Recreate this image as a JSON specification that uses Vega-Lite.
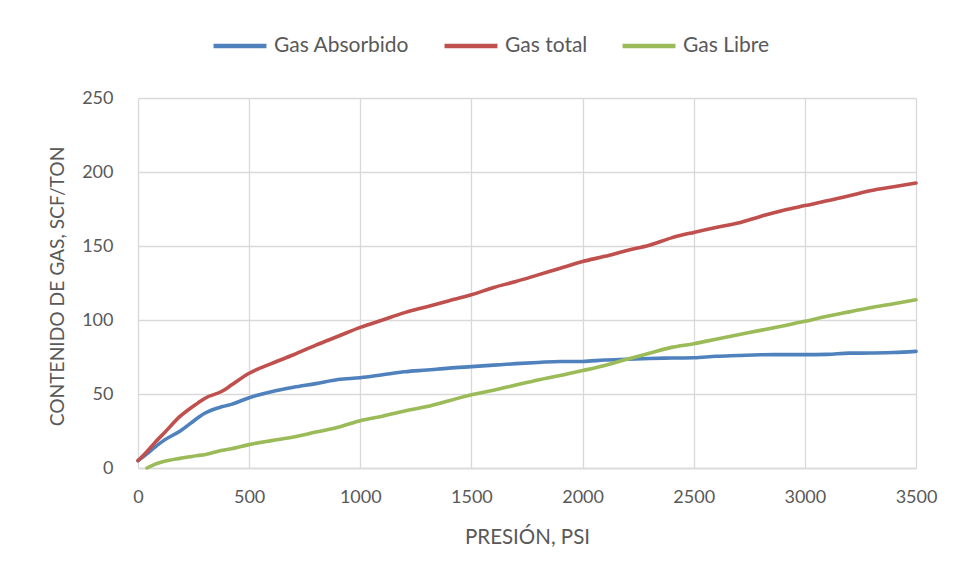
{
  "$schema": "https://vega.github.io/schema/vega-lite/v6.json",
  "width": 778,
  "height": 370,
  "autosize": {"type": "none"},
  "padding": {"left": 138, "top": 98, "right": 45, "bottom": 110},
  "background": "white",
  "config": {
    "font": "Lato",
    "view": {"stroke": null},
    "axis": {"labelColor": "#595959", "titleColor": "#595959", "labelFont": "Lato", "titleFont": "Lato", "labelFontSize": 18, "titleFontSize": 18, "titleFontWeight": "normal", "gridColor": "#d9d9d9", "gridWidth": 1.3, "tickSize": 0, "ticks": false, "labelFlush": false}
  },
  "data": {
    "values": [
      {"p": 0, "s": "Gas Absorbido", "v": 5},
      {"p": 40, "s": "Gas Absorbido", "v": 9.5},
      {"p": 75, "s": "Gas Absorbido", "v": 14},
      {"p": 120, "s": "Gas Absorbido", "v": 19},
      {"p": 190, "s": "Gas Absorbido", "v": 25},
      {"p": 270, "s": "Gas Absorbido", "v": 34},
      {"p": 300, "s": "Gas Absorbido", "v": 37},
      {"p": 380, "s": "Gas Absorbido", "v": 41.5},
      {"p": 420, "s": "Gas Absorbido", "v": 43},
      {"p": 500, "s": "Gas Absorbido", "v": 47.5},
      {"p": 600, "s": "Gas Absorbido", "v": 51.5},
      {"p": 700, "s": "Gas Absorbido", "v": 54.5},
      {"p": 800, "s": "Gas Absorbido", "v": 57},
      {"p": 900, "s": "Gas Absorbido", "v": 59.8},
      {"p": 1000, "s": "Gas Absorbido", "v": 61},
      {"p": 1100, "s": "Gas Absorbido", "v": 63},
      {"p": 1200, "s": "Gas Absorbido", "v": 65},
      {"p": 1300, "s": "Gas Absorbido", "v": 66.2},
      {"p": 1400, "s": "Gas Absorbido", "v": 67.5},
      {"p": 1500, "s": "Gas Absorbido", "v": 68.5},
      {"p": 1600, "s": "Gas Absorbido", "v": 69.5},
      {"p": 1700, "s": "Gas Absorbido", "v": 70.5},
      {"p": 1800, "s": "Gas Absorbido", "v": 71.3},
      {"p": 1900, "s": "Gas Absorbido", "v": 72},
      {"p": 2000, "s": "Gas Absorbido", "v": 72},
      {"p": 2100, "s": "Gas Absorbido", "v": 73},
      {"p": 2200, "s": "Gas Absorbido", "v": 73.5},
      {"p": 2300, "s": "Gas Absorbido", "v": 74},
      {"p": 2400, "s": "Gas Absorbido", "v": 74.3},
      {"p": 2500, "s": "Gas Absorbido", "v": 74.5},
      {"p": 2600, "s": "Gas Absorbido", "v": 75.5},
      {"p": 2700, "s": "Gas Absorbido", "v": 76},
      {"p": 2800, "s": "Gas Absorbido", "v": 76.5},
      {"p": 2900, "s": "Gas Absorbido", "v": 76.6},
      {"p": 3000, "s": "Gas Absorbido", "v": 76.6},
      {"p": 3100, "s": "Gas Absorbido", "v": 76.8},
      {"p": 3200, "s": "Gas Absorbido", "v": 77.6},
      {"p": 3300, "s": "Gas Absorbido", "v": 77.7},
      {"p": 3400, "s": "Gas Absorbido", "v": 78},
      {"p": 3500, "s": "Gas Absorbido", "v": 78.8},
      {"p": 0, "s": "Gas total", "v": 5},
      {"p": 40, "s": "Gas total", "v": 11},
      {"p": 75, "s": "Gas total", "v": 17},
      {"p": 120, "s": "Gas total", "v": 24},
      {"p": 190, "s": "Gas total", "v": 35},
      {"p": 270, "s": "Gas total", "v": 44},
      {"p": 300, "s": "Gas total", "v": 47},
      {"p": 380, "s": "Gas total", "v": 52},
      {"p": 420, "s": "Gas total", "v": 56},
      {"p": 500, "s": "Gas total", "v": 64},
      {"p": 600, "s": "Gas total", "v": 70.5},
      {"p": 700, "s": "Gas total", "v": 76.5},
      {"p": 800, "s": "Gas total", "v": 83},
      {"p": 900, "s": "Gas total", "v": 89},
      {"p": 1000, "s": "Gas total", "v": 95},
      {"p": 1100, "s": "Gas total", "v": 100},
      {"p": 1200, "s": "Gas total", "v": 105},
      {"p": 1300, "s": "Gas total", "v": 109},
      {"p": 1400, "s": "Gas total", "v": 113},
      {"p": 1500, "s": "Gas total", "v": 117},
      {"p": 1600, "s": "Gas total", "v": 122},
      {"p": 1700, "s": "Gas total", "v": 126},
      {"p": 1800, "s": "Gas total", "v": 130.5},
      {"p": 1900, "s": "Gas total", "v": 135},
      {"p": 2000, "s": "Gas total", "v": 139.5},
      {"p": 2100, "s": "Gas total", "v": 143},
      {"p": 2200, "s": "Gas total", "v": 147},
      {"p": 2300, "s": "Gas total", "v": 150.5},
      {"p": 2400, "s": "Gas total", "v": 155.5},
      {"p": 2500, "s": "Gas total", "v": 159.2},
      {"p": 2600, "s": "Gas total", "v": 162.5},
      {"p": 2700, "s": "Gas total", "v": 165.5},
      {"p": 2800, "s": "Gas total", "v": 170},
      {"p": 2900, "s": "Gas total", "v": 174},
      {"p": 3000, "s": "Gas total", "v": 177.3},
      {"p": 3100, "s": "Gas total", "v": 180.5},
      {"p": 3200, "s": "Gas total", "v": 184},
      {"p": 3300, "s": "Gas total", "v": 187.5},
      {"p": 3400, "s": "Gas total", "v": 190},
      {"p": 3500, "s": "Gas total", "v": 192.6},
      {"p": 40, "s": "Gas Libre", "v": 0},
      {"p": 75, "s": "Gas Libre", "v": 2.5},
      {"p": 120, "s": "Gas Libre", "v": 4.5},
      {"p": 190, "s": "Gas Libre", "v": 6.5},
      {"p": 270, "s": "Gas Libre", "v": 8.5},
      {"p": 300, "s": "Gas Libre", "v": 9},
      {"p": 380, "s": "Gas Libre", "v": 12},
      {"p": 420, "s": "Gas Libre", "v": 13},
      {"p": 500, "s": "Gas Libre", "v": 15.8},
      {"p": 600, "s": "Gas Libre", "v": 18.5},
      {"p": 700, "s": "Gas Libre", "v": 21},
      {"p": 800, "s": "Gas Libre", "v": 24.3},
      {"p": 900, "s": "Gas Libre", "v": 27.5},
      {"p": 1000, "s": "Gas Libre", "v": 32},
      {"p": 1100, "s": "Gas Libre", "v": 35},
      {"p": 1200, "s": "Gas Libre", "v": 38.5},
      {"p": 1300, "s": "Gas Libre", "v": 41.5},
      {"p": 1400, "s": "Gas Libre", "v": 45.5},
      {"p": 1500, "s": "Gas Libre", "v": 49.5},
      {"p": 1600, "s": "Gas Libre", "v": 52.5},
      {"p": 1700, "s": "Gas Libre", "v": 56},
      {"p": 1800, "s": "Gas Libre", "v": 59.5},
      {"p": 1900, "s": "Gas Libre", "v": 62.5},
      {"p": 2000, "s": "Gas Libre", "v": 65.8},
      {"p": 2100, "s": "Gas Libre", "v": 69.3},
      {"p": 2200, "s": "Gas Libre", "v": 73.5},
      {"p": 2300, "s": "Gas Libre", "v": 77.5},
      {"p": 2400, "s": "Gas Libre", "v": 81.5},
      {"p": 2500, "s": "Gas Libre", "v": 84},
      {"p": 2600, "s": "Gas Libre", "v": 87},
      {"p": 2700, "s": "Gas Libre", "v": 90.1},
      {"p": 2800, "s": "Gas Libre", "v": 93},
      {"p": 2900, "s": "Gas Libre", "v": 96},
      {"p": 3000, "s": "Gas Libre", "v": 99.1},
      {"p": 3100, "s": "Gas Libre", "v": 102.5},
      {"p": 3200, "s": "Gas Libre", "v": 105.5},
      {"p": 3300, "s": "Gas Libre", "v": 108.5},
      {"p": 3400, "s": "Gas Libre", "v": 111},
      {"p": 3500, "s": "Gas Libre", "v": 113.7}
    ]
  },
  "mark": {"type": "line", "interpolate": "monotone", "strokeWidth": 3.6, "strokeCap": "round"},
  "encoding": {
    "x": {
      "field": "p", "type": "quantitative",
      "scale": {"domain": [0, 3500], "nice": false},
      "axis": {"values": [0, 500, 1000, 1500, 2000, 2500, 3000, 3500], "format": "d", "title": "PRESIÓN, PSI", "titleFontSize": 20.5, "labelPadding": 20, "labelBaseline": "top", "domain": true, "domainColor": "#d9d9d9", "domainWidth": 1.3, "titleY": 69, "titleBaseline": "middle"}
    },
    "y": {
      "field": "v", "type": "quantitative",
      "scale": {"domain": [0, 250], "nice": false},
      "axis": {"values": [0, 50, 100, 150, 200, 250], "title": "CONTENIDO DE GAS, SCF/TON", "titleFontSize": 19.2, "labelPadding": 25, "domain": false, "titleX": -81, "titleY": 188, "titleAngle": -90, "titleBaseline": "middle", "titleAlign": "center"}
    },
    "color": {
      "field": "s", "type": "nominal", "sort": null,
      "scale": {"domain": ["Gas Absorbido", "Gas total", "Gas Libre"], "range": ["#4f81bd", "#c0504d", "#9bbb59"]},
      "legend": {"title": null, "orient": "none", "direction": "horizontal", "legendX": 73, "legendY": -81, "symbolType": "stroke", "symbolSize": 2800, "symbolStrokeWidth": 4.5, "labelFontSize": 21, "labelColor": "#595959", "labelFont": "Lato", "labelOffset": 5, "columnPadding": 25}
    }
  }
}
